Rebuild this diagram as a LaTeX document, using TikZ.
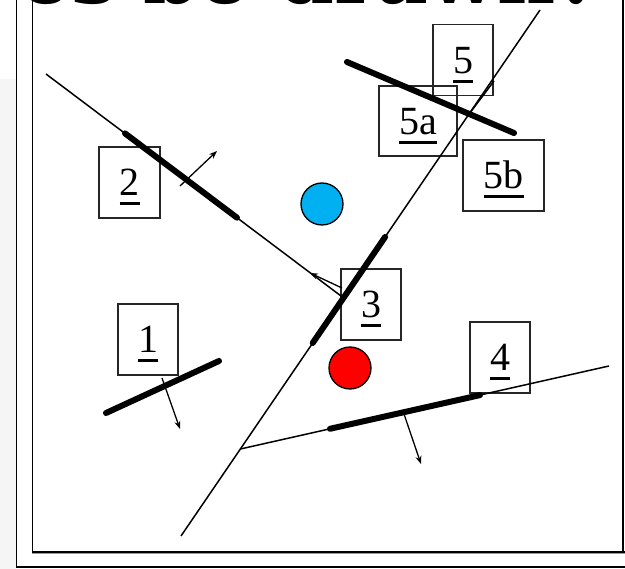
\documentclass[tikz,border=0pt]{standalone}
\usepackage{fontspec}
\setmainfont{Liberation Serif}
\newfontfamily\titlefont{DejaVu Serif}
\usetikzlibrary{arrows.meta}
\definecolor{skyblue}{RGB}{0,176,240}
\definecolor{redball}{RGB}{255,0,0}
\newcommand\ulbl[1]{\sbox0{#1}\rlap{\rule[-9.5pt]{\wd0}{3pt}}\usebox0}
\begin{document}
\begin{tikzpicture}[x=1pt,y=-1pt,
  lbl/.style={draw=black!85, line width=1.4pt, minimum width=60pt, minimum height=71pt,
    inner sep=0pt, font=\fontsize{40}{48}\selectfont, text height=27pt, text depth=0pt},
  thinline/.style={line width=1.5pt},
  seg/.style={line width=6pt, line cap=round},
  nrm/.style={line width=1.3pt, -{Stealth[length=8pt,width=6pt]}},
  ball/.style={circle, draw=black, line width=1.3pt, minimum size=42pt, inner sep=0pt},
  frame/.style={line width=1.5pt}]
\useasboundingbox (0,0) rectangle (625,569);
\clip (0,0) rectangle (625,569);
\fill[black!4] (0,79) rectangle (16,569);
% frames
\draw[frame] (16.5,0) -- (16.5,567) -- (625,567);
\draw[frame] (32.5,0) -- (32.5,552) -- (625,552);
\draw[frame] (623,0) -- (623,552);
\draw[black!40, line width=1pt] (32,554) -- (625,554);
% title (cut off at the top)
\node[anchor=base west, inner sep=0pt, font=\titlefont\bfseries\fontsize{80}{82}\selectfont] (title) at (20,4) {es be drawn?};
% label boxes
\node[lbl] (b5) at (463,60) {\ulbl{5}};
\node[lbl, minimum width=78pt, minimum height=70pt] (b5a) at (418,121) {\ulbl{5a}};
\node[lbl, minimum width=81pt] (b5b) at (503.5,175.5) {\ulbl{5b}};
\node[lbl, minimum width=61pt] (b2) at (129.5,182.5) {\ulbl{2}};
\node[lbl] (b1) at (148,339.5) {\ulbl{1}};
\node[lbl] (b3) at (371,304.5) {\ulbl{3}};
\node[lbl] (b4) at (500,357.5) {\ulbl{4}};
% balls
\node[ball, fill=skyblue] (blue) at (322,204) {};
\node[ball, fill=redball] (red) at (350,368) {};
% coordinates
\coordinate (A0) at (46,74);
\coordinate (X) at (343.4,297.8);
\coordinate (B0) at (540,10);
\coordinate (B1) at (181,536);
\coordinate (D0) at (240.4,449);
\coordinate (D1) at (609,366);
\coordinate (S1a) at (106,413); \coordinate (S1b) at (219,361);
\coordinate (S2a) at (125,133.4); \coordinate (S2b) at (237,217.7);
\coordinate (S3a) at (385.1,237); \coordinate (S3b) at (312.7,343);
\coordinate (S4a) at (330,428.8); \coordinate (S4b) at (480,395.1);
\coordinate (S5a) at (347,62); \coordinate (S5b) at (514,133);
\coordinate (N1a) at (162,378); \coordinate (N1b) at (180,429);
\coordinate (N2a) at (180,186); \coordinate (N2b) at (217,151);
\coordinate (N3a) at (342,288); \coordinate (N3b) at (310,273);
\coordinate (N4a) at (404,414); \coordinate (N4b) at (421,464);
\coordinate (P5a) at (494,81); \coordinate (P5b) at (468,115.5);
% thin lines
\draw[thinline] (A0) -- (X);
\draw[thinline] (B0) -- (B1);
\draw[thinline] (D0) -- (D1);
\draw[thinline] (P5a) -- (P5b);
% thick segments
\draw[seg] (S1a) -- (S1b);
\draw[seg] (S2a) -- (S2b);
\draw[seg] (S3a) -- (S3b);
\draw[seg] (S4a) -- (S4b);
\draw[seg] (S5a) -- (S5b);
% normals
\draw[nrm] (N1a) -- (N1b);
\draw[nrm] (N2a) -- (N2b);
\draw[nrm] (N3a) -- (N3b);
\draw[nrm] (N4a) -- (N4b);
\end{tikzpicture}
\end{document}
